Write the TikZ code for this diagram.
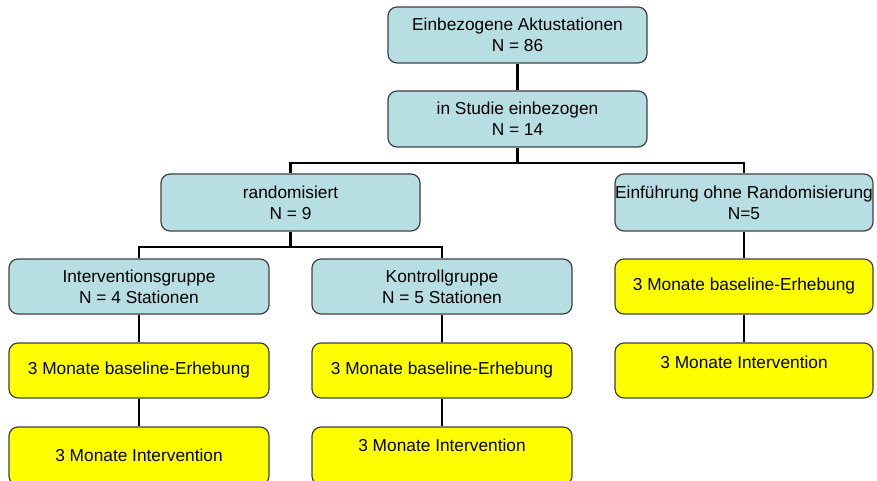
\documentclass[tikz,border=0pt]{standalone}
\usepackage{fontspec}
\setmainfont{Liberation Sans}
\definecolor{boxblue}{HTML}{B7DEE2}
\definecolor{boxyellow}{HTML}{FFFF00}
\definecolor{edgegray}{HTML}{404040}
\tikzset{
  base/.style={draw=edgegray, line width=1.2pt, rounded corners=9pt, inner sep=0pt,
    align=center, text=black, font=\fontsize{17.3}{21}\selectfont},
  bluebox/.style={base, fill=boxblue, minimum width=259pt, minimum height=56pt},
  yellowbox/.style={base, fill=boxyellow, minimum width=259pt, minimum height=55pt},
  txt/.style={inner sep=0pt, text=black, font=\fontsize{17.3}{21}\selectfont},
  conn/.style={line width=2.6pt, black}
}
\begin{document}
\begin{tikzpicture}[x=1pt, y=-1pt]
\useasboundingbox (0,0) rectangle (877,481);
% connectors first
\coordinate (h1) at (517.5,163);
\coordinate (h2) at (290.5,247);
\node[bluebox] (b1) at (517.5,35) {Einbezogene Aktustationen\\N = 86};
\node[bluebox] (b2) at (517.5,119) {in Studie einbezogen\\N = 14};
\node[bluebox, minimum height=57pt] (rand) at (290.5,202.5) {randomisiert\\N = 9};
\node[bluebox, minimum width=258pt, minimum height=57pt] (ohne) at (744,202.5) {Einführung ohne Randomisierung\\N=5};
\node[bluebox, minimum width=260pt, minimum height=55pt] (ig) at (139,286.5) {Interventionsgruppe\\N = 4 Stationen};
\node[bluebox, minimum width=260pt, minimum height=55pt] (kg) at (442,286.5) {Kontrollgruppe\\N = 5 Stationen};
\node[yellowbox, minimum width=260pt] (ig1) at (139,370.5) {3 Monate baseline-Erhebung};
\node[yellowbox, minimum width=260pt, minimum height=58pt] (ig2) at (139,456) {};
\node[txt] (ig2t) at (139,455) {3 Monate Intervention};
\node[yellowbox, minimum width=260pt] (kg1) at (442,370.5) {3 Monate baseline-Erhebung};
\node[yellowbox, minimum width=260pt, minimum height=58pt] (kg2) at (442,456) {};
\node[txt] (kg2t) at (442,445) {3 Monate Intervention};
\node[yellowbox, minimum width=258pt] (r1) at (744,286.5) {3 Monate baseline-Erhebung};
\node[yellowbox, minimum width=258pt] (r2) at (744,370.5) {};
\node[txt] (r2t) at (744,362) {3 Monate Intervention};
% connectors
\draw[conn] (b1.south) -- (b2.north);
\draw[conn] (b2.south) -- (h1);
\draw[conn] (rand.north) |- (h1) -| (ohne.north);
\draw[conn] (rand.south) -- (h2);
\draw[conn] (ig.north) |- (h2) -| (kg.north);
\draw[conn] (ig.south) -- (ig1.north);
\draw[conn] (ig1.south) -- (ig2.north);
\draw[conn] (kg.south) -- (kg1.north);
\draw[conn] (kg1.south) -- (kg2.north);
\draw[conn] (ohne.south) -- (r1.north);
\draw[conn] (r1.south) -- (r2.north);
\end{tikzpicture}
\end{document}
